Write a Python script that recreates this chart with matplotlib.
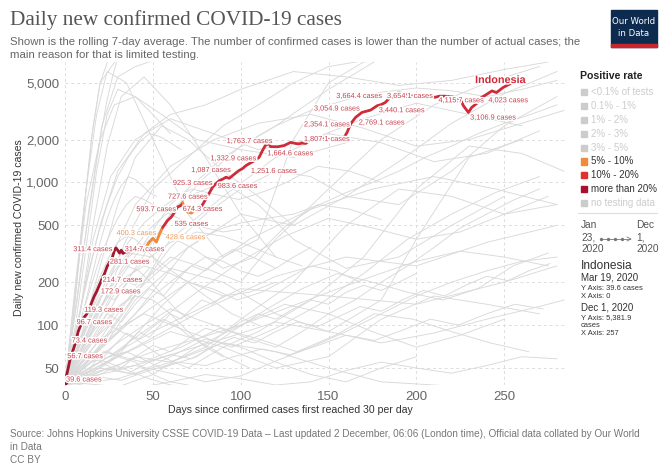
import numpy as np
import matplotlib
matplotlib.use('Agg')
import matplotlib.pyplot as plt
import matplotlib.patheffects as pe
from matplotlib.lines import Line2D
from matplotlib.patches import Rectangle

W, H = 670, 473

# ---- Indonesia, rolling 7-day average (days since 30/day, cases) ----
indo_days = [0, 1.5, 3, 4.5, 6, 7.5, 9, 10.5, 12, 13.5, 15, 16.5, 18, 19.5, 21, 22.5, 24, 25.5,
             27, 28, 29, 30, 31, 32, 33, 34, 37, 40, 43, 45, 48, 50, 52, 54, 55.6, 58.4, 60.5,
             62.4, 64, 66, 67, 68, 70, 72, 74, 75.5, 77.5, 80, 82, 84, 86, 88, 90, 91.6, 93.5,
             95.4, 97, 99, 101, 103, 105.5, 108, 110.5, 112.4, 114, 116, 117, 121, 124.7, 128.5,
             131, 133, 135, 137, 139, 141, 143, 144.6, 151, 157.8, 160.6, 162.5, 165.4, 169, 174,
             177.6, 180, 182.3, 185, 190, 193.7, 197.5, 201, 204, 207, 210.7, 213, 216, 221, 225,
             226.8, 229.6, 231.5, 235, 237, 240, 243, 245.6, 249.4, 253, 257]
indo_vals = [39.6, 48, 58, 66, 75, 90, 100, 112, 118, 125, 142, 158, 172, 190, 210, 230, 258, 278,
             300, 330, 348, 335, 320, 335, 318, 324, 330, 335, 338, 334, 382, 406, 382, 440, 484, 542, 572,
             620, 672, 690, 720, 660, 620, 610, 640, 660, 672, 760, 838, 927, 985, 1033, 1060, 1089, 1070,
             1118, 1160, 1213, 1250, 1314, 1370, 1425, 1502, 1675, 1815, 1880, 1785, 1780, 1815, 1913,
             1880, 1865, 1890, 1880, 1950, 2023, 2040, 2074, 2000, 1968, 2249, 2570, 2862, 3100, 3222,
             3450, 3520, 3640, 3944, 4275, 4150, 4032, 4150, 4080, 4032, 3960, 4032, 4030, 3980, 3830,
             3450, 3100, 3360, 3640, 3944, 4150, 4390, 4275, 4640, 4900, 5381.9]
# positive-rate band of each stretch (start day, end day, band)
indo_bands = [(0, 44, 'gt20'), (44, 55.6, '5_10'), (55.6, 67, '10_20'),
              (67, 75.5, '5_10'), (75.5, 257, '10_20')]

# point labels on the Indonesia line: text, day, value
lab_text = ['39.6 cases', '56.7 cases', '73.4 cases', '96.7 cases', '119.3 cases', '172.9 cases',
            '214.7 cases', '281.1 cases', '311.4 cases', '314.7 cases', '400.3 cases', '428.6 cases',
            '535 cases', '593.7 cases', '674.3 cases', '727.6 cases', '925.3 cases', '983.6 cases',
            '1,087 cases', '1,251.6 cases', '1,332.9 cases', '1,664.6 cases', '1,763.7 cases',
            '1,807.1 cases', '2,354.1 cases', '3,054.9 cases', '2,769.1 cases', '3,440.1 cases',
            '3,664.4 cases', '3,654.1 cases', '4,115.7 cases', '3,106.9 cases', '4,023 cases']
lab_day = [0.6, 1.3, 3.8, 6.6, 10.9, 20.4, 21.4, 25.5, 4.7, 34, 29.3, 57.3, 62.4, 40.6, 67, 58.6,
           61.4, 86.9, 71.8, 105.8, 82.8, 115.2, 92, 136, 136, 141.7, 167.2, 178.6, 154.4, 183.3,
           212.6, 230.6, 241]
lab_val = [41.2, 60, 77.3, 104, 127, 171, 206, 276, 338, 338, 438, 410, 508, 644, 647, 789, 984,
           937, 1213, 1194, 1465, 1589, 1936, 2000, 2535, 3275, 2612, 3186, 4010, 4010, 3741, 2831, 3741]
lab_orange = ['400.3 cases', '428.6 cases']

# ---- other countries (grey background) ----
bg_lines = [
    ([0, 5, 10, 15, 20, 25], [40, 120, 500, 2000, 5000, 7500]),
    ([0, 4, 8, 12, 16, 20, 30], [38, 90, 300, 900, 2500, 5000, 7500]),
    ([0, 6, 12, 18, 24, 30, 40, 50, 60], [40, 100, 350, 1200, 3000, 4500, 4000, 3000, 2200]),
    ([0, 8, 16, 24, 32, 45, 60, 80, 100, 120], [39, 110, 500, 1800, 4000, 5500, 3500, 1500, 600, 300]),
    ([0, 10, 20, 30, 40, 55, 70, 90, 110, 130], [40, 90, 260, 700, 1500, 2500, 2000, 1200, 800, 500]),
    ([0, 7, 14, 21, 30, 40, 55, 70], [42, 150, 700, 2500, 5500, 6500, 7500, 7000]),
    ([0, 6, 12, 18, 24, 35, 50, 70, 90, 110, 130, 150, 170, 200],
     [38, 200, 900, 3000, 6000, 5000, 2000, 600, 300, 400, 2000, 5000, 7000, 7500]),
    ([0, 10, 20, 35, 50, 70, 90, 110, 130, 150, 180], [40, 70, 150, 400, 900, 1500, 2500, 3500, 5000, 6500, 7500]),
    ([0, 15, 30, 45, 60, 80, 100, 120, 140, 160, 190, 220, 250, 280],
     [40, 60, 110, 200, 350, 600, 900, 1200, 1100, 800, 700, 1200, 2500, 4000]),
    ([0, 20, 40, 60, 80, 100, 120, 150, 180, 210, 240, 270],
     [38, 80, 180, 300, 250, 200, 400, 900, 2000, 3500, 5000, 6500]),
    ([0, 10, 25, 40, 60, 90, 120, 150, 180, 200, 230, 260],
     [39, 55, 80, 150, 250, 200, 120, 90, 150, 400, 1500, 2000]),
    ([0, 12, 25, 40, 55, 70, 90, 110, 140, 170, 200, 230, 260, 284],
     [40, 70, 100, 80, 60, 50, 70, 90, 150, 300, 900, 1800, 1600, 1200]),
    ([0, 20, 40, 60, 80, 100, 130, 160, 190, 220, 250, 280],
     [38, 45, 60, 55, 70, 110, 200, 500, 900, 800, 600, 700]),
    ([0, 15, 30, 50, 70, 90, 110, 130, 160, 190, 220, 250],
     [41, 90, 250, 500, 800, 1000, 700, 400, 250, 300, 500, 800]),
    ([0, 10, 20, 30, 40, 50, 60, 70, 80], [40, 45, 50, 60, 55, 45, 40, 38, 35]),
    ([0, 20, 40, 60, 80, 100, 120, 140, 160, 180, 200], [40, 50, 45, 60, 80, 70, 55, 45, 40, 50, 60]),
    ([0, 30, 60, 90, 120, 150, 180, 210, 240, 270], [39, 60, 90, 70, 50, 60, 110, 160, 140, 120]),
    ([0, 25, 50, 75, 100, 125, 150, 175, 200, 225, 250], [40, 35, 45, 70, 100, 140, 120, 90, 70, 85, 110]),
    ([0, 15, 35, 55, 75, 95, 115, 135, 155, 175, 195, 215, 235, 255, 275],
     [40, 55, 65, 50, 60, 90, 130, 180, 230, 200, 170, 150, 180, 260, 320]),
    ([0, 40, 80, 120, 160, 200, 240, 280], [39, 70, 130, 220, 300, 260, 380, 500]),
    ([0, 20, 45, 70, 95, 120, 145, 170, 195, 220, 245, 270],
     [40, 80, 120, 90, 70, 95, 140, 230, 400, 600, 850, 1100]),
    ([0, 30, 60, 90, 120, 150, 180, 210, 240], [38, 42, 55, 75, 65, 50, 40, 38, 36]),
    ([0, 12, 24, 36, 48, 60, 80, 100], [40, 60, 55, 48, 42, 38, 36, 35]),
    ([0, 50, 100, 150, 200, 250, 280], [40, 90, 180, 160, 140, 200, 260]),
    ([0, 18, 36, 54, 72, 90, 108, 126, 144, 162, 180], [40, 120, 300, 450, 350, 250, 300, 500, 700, 650, 550]),
    ([0, 10, 20, 30, 45, 60, 80, 100, 130, 160, 190, 220, 250, 275],
     [40, 150, 500, 1200, 2200, 3000, 3500, 4500, 6000, 5500, 4800, 5200, 6200, 7000]),
    ([0, 8, 16, 26, 40, 60, 80, 110, 140, 170, 200, 230, 260],
     [40, 110, 400, 1100, 2000, 2800, 2300, 1700, 2000, 2800, 3600, 3000, 2500]),
    ([0, 12, 24, 40, 60, 85, 110, 140, 170, 200, 230, 260, 284],
     [40, 100, 260, 700, 1300, 2000, 2600, 3000, 2400, 1800, 2000, 2600, 3200]),
    ([0, 20, 40, 60, 90, 120, 150, 180, 210, 240, 270],
     [39, 70, 160, 400, 800, 1500, 2200, 1900, 1400, 1600, 2300]),
    ([0, 6, 12, 20, 28, 40, 55, 75, 100, 130, 160], [40, 180, 700, 2000, 3500, 4000, 3000, 2000, 1700, 1500, 1900]),
    ([0, 8, 16, 24, 32, 40, 50, 60, 70, 80, 90], [40, 55, 80, 110, 140, 160, 150, 120, 90, 70, 60]),
    ([0, 10, 20, 30, 45, 60, 75, 90, 105, 120], [40, 70, 130, 200, 260, 230, 190, 160, 170, 200]),
    ([0, 25, 50, 75, 100, 125, 150, 175, 200, 225, 250, 275],
     [38, 50, 65, 80, 100, 130, 170, 220, 280, 330, 300, 260]),
    ([0, 20, 40, 60, 80, 100, 120, 140, 160, 180, 200, 220, 240, 260, 280],
     [40, 48, 52, 46, 40, 44, 56, 70, 90, 120, 160, 200, 240, 280, 300]),
    ([0, 35, 70, 105, 140, 175, 210, 245, 280], [40, 100, 200, 400, 650, 900, 1100, 900, 700]),
    ([0, 15, 30, 45, 60, 75, 90, 105, 120, 135], [40, 90, 180, 280, 380, 450, 420, 360, 300, 260]),
    ([0, 5, 10, 15, 20, 25, 30, 35, 40, 45, 50, 55], [40, 60, 90, 150, 220, 300, 380, 420, 400, 350, 300, 250]),
    ([0, 10, 20, 30, 40, 50, 60, 70, 80, 90, 100, 110, 120, 130, 140],
     [40, 50, 70, 90, 120, 160, 200, 250, 300, 280, 240, 220, 250, 300, 350]),
    ([0, 30, 60, 90, 120, 150, 180], [38, 200, 700, 1500, 2500, 4500, 7500]),
    ([0, 9, 18, 27, 36, 50, 65, 80, 95, 110], [40, 75, 140, 230, 320, 300, 220, 160, 120, 100]),
    ([0, 14, 28, 42, 56, 70, 84, 98, 112, 126, 140, 154, 168],
     [39, 45, 60, 90, 140, 200, 180, 150, 170, 210, 260, 240, 200]),
    ([0, 22, 44, 66, 88, 110, 132, 154, 176, 198, 220, 242, 264],
     [40, 65, 55, 70, 95, 80, 65, 85, 120, 110, 90, 75, 65]),
    ([0, 7, 14, 21, 28, 35, 42, 49, 56, 63, 70], [40, 65, 110, 160, 200, 260, 240, 200, 160, 130, 110]),
    ([0, 40, 70, 100, 130, 160, 190, 220, 250, 280], [38, 120, 350, 600, 500, 800, 1400, 2600, 4200, 6000]),
    ([0, 4, 8, 12, 16, 20, 24, 28, 32, 36, 40, 44, 48],
     [40, 52, 70, 85, 110, 130, 160, 150, 175, 200, 190, 220, 250]),
    ([0, 6, 12, 18, 24, 30, 36, 42, 48, 54, 60, 66, 72, 78, 84, 90],
     [39, 48, 44, 58, 66, 60, 75, 90, 82, 100, 120, 110, 130, 150, 140, 160]),
    ([0, 10, 20, 30, 40, 50, 60, 70, 80, 90, 100, 110, 120, 130, 140, 150, 160, 170, 180, 190, 200],
     [40, 46, 55, 48, 60, 72, 65, 80, 95, 88, 105, 120, 110, 130, 150, 140, 170, 190, 175, 200, 230]),
    ([0, 8, 16, 24, 32, 40, 48, 56, 64, 72, 80, 88, 96, 104, 112, 120],
     [40, 62, 90, 120, 105, 140, 180, 160, 210, 260, 240, 300, 340, 310, 280, 250]),
    ([0, 12, 24, 36, 48, 60, 72, 84, 96, 108, 120, 132, 144, 156, 168, 180, 192, 204, 216, 228, 240, 252, 264, 276],
     [40, 42, 50, 46, 55, 62, 58, 70, 82, 75, 90, 105, 98, 115, 135, 125, 150, 175, 160, 190, 220, 205, 240, 270]),
    ([0, 5, 10, 15, 20, 25, 30, 35, 40, 45, 50, 60, 70, 80, 90, 100],
     [40, 70, 120, 190, 300, 420, 560, 700, 800, 760, 700, 600, 520, 480, 450, 470]),
    ([0, 10, 20, 30, 40, 50, 60, 70, 80, 90, 100, 115, 130, 145, 160, 175, 190, 205, 220, 235, 250, 265, 280],
     [40, 60, 90, 130, 170, 220, 280, 350, 420, 480, 520, 560, 600, 700, 850, 1000, 1200, 1500, 1800, 2200,
      2600, 3000, 3500]),
    ([0, 15, 30, 45, 60, 75, 90, 105, 120, 135, 150, 165, 180, 195, 210, 225, 240, 255, 270],
     [38, 55, 75, 100, 130, 110, 95, 80, 70, 90, 120, 150, 200, 260, 350, 480, 600, 750, 900]),
    ([0, 20, 40, 60, 80, 100, 120, 140, 160, 180, 200, 220, 240, 260, 280],
     [40, 38, 36, 40, 45, 42, 38, 40, 48, 55, 50, 46, 52, 60, 58]),
    ([0, 7, 14, 21, 28, 35, 42, 49, 56, 63, 70, 77, 84, 91, 98, 105],
     [40, 50, 65, 58, 72, 88, 80, 95, 110, 100, 85, 75, 68, 60, 55, 50]),
    ([0, 9, 18, 27, 36, 45, 54, 63, 72, 81, 90, 99, 108, 117, 126, 135, 144, 153, 162, 171, 180],
     [40, 80, 150, 250, 380, 520, 650, 780, 900, 850, 800, 760, 820, 900, 1000, 1150, 1300, 1250, 1200, 1100,
      1000]),
    ([0, 6, 12, 18, 24, 30, 36, 42, 48, 54, 60, 66],
     [40, 90, 200, 400, 700, 1100, 1500, 1900, 2200, 2100, 1900, 1700]),
    ([0, 20, 40, 60, 80, 100, 120, 140, 160, 180, 200, 220, 240, 260, 280],
     [40, 100, 250, 600, 1100, 1800, 2500, 3200, 3800, 4300, 4600, 4400, 4000, 4500, 5200]),
    ([0, 16, 32, 48, 64, 80, 96, 112, 128, 144, 160, 176, 192, 208, 224, 240, 256, 272],
     [39, 44, 41, 48, 55, 52, 60, 68, 62, 72, 85, 78, 92, 110, 100, 120, 140, 130]),
    ([0, 25, 50, 75, 100, 125, 150, 175, 200, 225, 250, 275],
     [40, 60, 100, 170, 280, 420, 560, 480, 400, 450, 600, 800]),
    ([0, 3, 6, 9, 12, 15, 18, 21, 24, 27, 30], [40, 70, 130, 250, 450, 800, 1400, 2400, 3800, 5500, 7500]),
    ([0, 4, 8, 12, 16, 20, 24, 28, 32, 36, 40, 44, 48, 52],
     [40, 60, 95, 150, 240, 380, 560, 760, 950, 1100, 1050, 950, 850, 800]),
    ([0, 30, 60, 90, 120, 150, 180, 210, 240, 270, 284], [40, 48, 62, 80, 105, 90, 75, 88, 110, 135, 150]),
]
bg_color = '#d9d9d9'

# ---- positive-rate legend ----
leg_labels = ['<0.1% of tests', '0.1% - 1%', '1% - 2%', '2% - 3%', '3% - 5%',
              '5% - 10%', '10% - 20%', 'more than 20%', 'no testing data']
leg_colors = ['#cccccc', '#cccccc', '#cccccc', '#cccccc', '#cccccc',
              '#f08a3c', '#e2312e', '#a8102c', '#cccccc']
band_color = {'5_10': '#ee8a3a', '10_20': '#cf2b3a', 'gt20': '#a3172f'}

yticks = [50, 100, 200, 500, 1000, 2000, 5000]
ytick_labels = ['50', '100', '200', '500', '1,000', '2,000', '5,000']
xticks = [0, 50, 100, 150, 200, 250]


def fx(x):
    return x / W


def fy(y):
    return 1 - y / H


##### ----------------------
fig = plt.figure(figsize=(W / 100, H / 100), dpi=100)
fig.patch.set_facecolor('white')
ax = fig.add_axes([fx(65), fy(385), fx(500), 323 / H])
ax.set_yscale('log')
ax.set_xlim(0, 284.6)
ax.set_ylim(38, 7000)

for xs, ys in bg_lines:
    ax.plot(xs, ys, color=bg_color, lw=0.65, zorder=1)

d = np.array(indo_days)
v = np.array(indo_vals)
for start, end, band in indo_bands:
    m = (d >= start) & (d <= end)
    ax.plot(d[m], v[m], color=band_color[band], lw=2.0, zorder=4,
            solid_capstyle='round', solid_joinstyle='round')
ax.plot(d[0], v[0], 'o', ms=3, color=band_color['gt20'], zorder=5)

for t, xd, yv in zip(lab_text, lab_day, lab_val):
    col = '#eb9a5c' if t in lab_orange else '#c64450'
    ax.text(xd, yv, t, fontsize=5.3, color=col, va='center', ha='left', zorder=6,
            family='Liberation Sans',
            path_effects=[pe.withStroke(linewidth=2.2, foreground='white')])
ax.text(233.4, 5226, 'Indonesia', fontsize=7.8, fontweight='bold', color='#cf2b3a',
        va='center', ha='left', zorder=6, family='Liberation Sans',
        path_effects=[pe.withStroke(linewidth=2.2, foreground='white')])

ax.set_yticks(yticks)
ax.set_yticklabels(ytick_labels)
ax.yaxis.set_minor_locator(matplotlib.ticker.NullLocator())
ax.set_xticks(xticks)
ax.tick_params(length=0, labelsize=9.5, labelcolor='#666666', pad=4, labelfontfamily='Liberation Sans')
ax.grid(True, which='major', axis='both', linestyle=(0, (3, 3)), color='#dddddd', lw=0.7)
ax.set_axisbelow(True)
for s in ax.spines.values():
    s.set_visible(False)

fig.text(fx(290), fy(410), 'Days since confirmed cases first reached 30 per day', fontsize=7.6,
         color='#333333', ha='center', va='center', family='Liberation Sans')
fig.text(fx(19), fy(228), 'Daily new confirmed COVID-19 cases', fontsize=7.6, rotation=90,
         color='#333333', ha='center', va='center', family='Liberation Sans')

# ---- header ----
fig.text(fx(10), fy(20), 'Daily new confirmed COVID-19 cases', fontsize=15.3, color='#555555',
         ha='left', va='center', family='Liberation Serif')
fig.text(fx(10), fy(42), 'Shown is the rolling 7-day average. The number of confirmed cases is lower '
         'than the number of actual cases; the', fontsize=8.2, color='#666666', ha='left',
         va='center', family='Liberation Sans')
fig.text(fx(10), fy(55), 'main reason for that is limited testing.', fontsize=8.2, color='#666666',
         ha='left', va='center', family='Liberation Sans')

fig.add_artist(Rectangle((fx(611), fy(47)), fx(46), 37 / H, color='#0d2a4f', transform=fig.transFigure))
fig.add_artist(Rectangle((fx(611), fy(47)), fx(46), 3 / H, color='#c8252c', transform=fig.transFigure))
fig.text(fx(634), fy(21), 'Our World', fontsize=6.2, color='white', ha='center', va='center',
         family='Liberation Sans Narrow')
fig.text(fx(634), fy(33), 'in Data', fontsize=6.2, color='white', ha='center', va='center',
         family='Liberation Sans Narrow')

# ---- legend ----
fig.text(fx(580), fy(76), 'Positive rate', fontsize=7.6, fontweight='bold', color='#222222',
         ha='left', va='center', family='Liberation Sans')
for i, (lab, col) in enumerate(zip(leg_labels, leg_colors)):
    yy = 92 + i * 13.9
    fig.add_artist(Rectangle((fx(581), fy(yy + 3)), fx(6), 6 / H, color=col, transform=fig.transFigure))
    tcol = '#cccccc' if col == '#cccccc' else '#333333'
    fig.text(fx(591), fy(yy), lab, fontsize=7.0, color=tcol, ha='left', va='center',
             family='Liberation Sans')
fig.add_artist(Line2D([fx(578), fx(657)], [fy(213), fy(213)], color='#dddddd', lw=0.8))
fig.text(fx(581), fy(237), 'Jan\n23,\n2020', fontsize=7.3, color='#555555', ha='left', va='center',
         linespacing=1.3, family='Liberation Sans')
fig.text(fx(636), fy(237), 'Dec\n1,\n2020', fontsize=7.3, color='#555555', ha='left', va='center',
         linespacing=1.3, family='Liberation Sans')
fig.add_artist(Line2D([fx(601), fx(630)], [fy(239), fy(239)], color='#777777', lw=0.6))
for px in [601, 608, 615, 622]:
    fig.add_artist(Line2D([fx(px)], [fy(239)], color='#777777', marker='o', ms=1.4, lw=0))
fig.add_artist(Line2D([fx(627), fx(631), fx(627)], [fy(237), fy(239), fy(241)], color='#777777', lw=0.6))

fig.text(fx(581), fy(266), 'Indonesia', fontsize=8.6, color='#333333', ha='left', va='center',
         family='Liberation Sans')
fig.text(fx(581), fy(278), 'Mar 19, 2020', fontsize=7.0, color='#333333', ha='left', va='center',
         family='Liberation Sans')
fig.text(fx(581), fy(288.5), 'Y Axis: 39.6 cases', fontsize=5.4, color='#333333', ha='left',
         va='center', family='Liberation Sans')
fig.text(fx(581), fy(296), 'X Axis: 0', fontsize=5.4, color='#333333', ha='left', va='center',
         family='Liberation Sans')
fig.text(fx(581), fy(307.5), 'Dec 1, 2020', fontsize=7.0, color='#333333', ha='left', va='center',
         family='Liberation Sans')
fig.text(fx(581), fy(317.5), 'Y Axis: 5,381.9', fontsize=5.4, color='#333333', ha='left', va='center',
         family='Liberation Sans')
fig.text(fx(581), fy(325.5), 'cases', fontsize=5.4, color='#333333', ha='left', va='center',
         family='Liberation Sans')
fig.text(fx(581), fy(333.5), 'X Axis: 257', fontsize=5.4, color='#333333', ha='left', va='center',
         family='Liberation Sans')

# ---- footer ----
fig.text(fx(10), fy(434), 'Source: Johns Hopkins University CSSE COVID-19 Data \u2013 Last updated 2 December, '
         '06:06 (London time), Official data collated by Our World', fontsize=7.2, color='#777777',
         ha='left', va='center', family='Liberation Sans')
fig.text(fx(10), fy(447), 'in Data', fontsize=7.2, color='#777777', ha='left', va='center',
         family='Liberation Sans')
fig.text(fx(10), fy(460), 'CC BY', fontsize=7.2, color='#777777', ha='left', va='center',
         family='Liberation Sans')

plt.savefig('out.png', dpi=100)
plt.close()
